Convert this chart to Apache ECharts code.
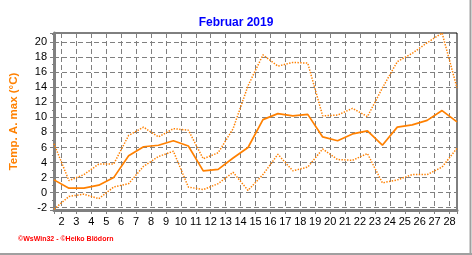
<!DOCTYPE html>
<html><head><meta charset="utf-8">
<script src="https://cdn.jsdelivr.net/npm/echarts@6/dist/echarts.min.js"></script>
<style>html,body{margin:0;padding:0;background:#fff}#c{width:472px;height:255px}</style>
</head><body><div id="c"></div>
<script>
// ---- data (February 2019, daily values) ----
const days = [1,2,3,4,5,6,7,8,9,10,11,12,13,14,15,16,17,18,19,20,21,22,23,24,25,26,27,28];
const tempMaxAvg  = [1.7,0.6,0.6,1.0,2.0,4.9,6.1,6.3,6.9,6.2,2.9,3.1,4.6,6.0,9.7,10.5,10.2,10.4,7.4,6.9,7.8,8.2,6.3,8.7,9.0,9.6,10.9,9.4];
const tempMaxHigh = [6.5,1.6,2.4,3.8,3.8,7.6,8.7,7.4,8.5,8.3,4.5,5.3,8.5,14.2,18.3,16.8,17.3,17.2,10.2,10.3,11.2,10.1,13.9,17.4,18.5,19.9,21.2,13.9];
const tempMaxLow  = [-2.2,-0.5,-0.2,-0.8,0.75,1.2,3.5,4.8,5.5,0.75,0.4,1.2,2.7,0.3,2.4,5.1,2.9,3.4,5.8,4.4,4.3,5.2,1.3,1.7,2.4,2.4,3.4,5.9];
const xTickDays   = [2,3,4,5,6,7,8,9,10,11,12,13,14,15,16,17,18,19,20,21,22,23,24,25,26,27,28];
const yTickValues = [-2,0,2,4,6,8,10,12,14,16,18,20];
const NOON = 0.5; // daily value is plotted at mid-day; grid lines mark day starts

const toPts = vals => days.map((d, i) => [d + NOON, vals[i]]);
const ORANGE = '#FF8000';
const GREY = '#808080';

const chart = echarts.init(document.getElementById('c'), null, {renderer: 'canvas'});
chart.setOption({
  animation: false,
  title: {
    text: 'Februar 2019', left: 'center', top: 12,
    textStyle: {color: '#0000FF', fontSize: 12, fontWeight: 'bold', fontFamily: 'Liberation Sans, Arial, sans-serif'}
  },
  grid: {left: 51, right: 15, top: 33, bottom: 45, show: true, borderColor: '#000', borderWidth: 1, backgroundColor: 'transparent'},
  xAxis: {
    type: 'value', min: 1.5, max: 28.5, minInterval: 1, maxInterval: 1, splitNumber: 27,
    axisLine: {show: true, onZero: false, lineStyle: {color: GREY, width: 3}},
    axisTick: {show: true, length: 4, lineStyle: {color: GREY, width: 1}},
    minorTick: {show: true, splitNumber: 4, length: 2, lineStyle: {color: GREY, width: 1}},
    axisLabel: {color: '#000', fontSize: 11, margin: 6, fontFamily: 'Liberation Sans, Arial, sans-serif',
      showMinLabel: false, showMaxLabel: false,
      formatter: v => xTickDays.indexOf(v) >= 0 ? String(v) : ''},
    splitLine: {show: true, showMinLine: false, showMaxLine: false, lineStyle: {color: GREY, type: [5, 3], width: 1}}
  },
  yAxis: {
    type: 'value', min: -2.3, max: 21.2, minInterval: 2, maxInterval: 2, splitNumber: 12,
    name: 'Temp. A. max (°C)', nameLocation: 'middle', nameGap: 34, nameRotate: 90,
    nameTextStyle: {color: ORANGE, fontWeight: 'bold', fontSize: 11.5, fontFamily: 'Liberation Sans, Arial, sans-serif'},
    axisLine: {show: true, onZero: false, lineStyle: {color: GREY, width: 3}},
    axisTick: {show: true, length: 4, lineStyle: {color: GREY, width: 1}},
    minorTick: {show: true, splitNumber: 2, length: 2, lineStyle: {color: GREY, width: 1}},
    axisLabel: {color: '#000', fontSize: 11, margin: 7, fontFamily: 'Liberation Sans, Arial, sans-serif',
      showMinLabel: false, showMaxLabel: false,
      formatter: v => yTickValues.indexOf(v) >= 0 ? String(v) : ''},
    splitLine: {show: true, showMinLine: false, showMaxLine: false, lineStyle: {color: GREY, type: [5, 3], width: 1}}
  },
  series: [
    {type: 'line', name: 'max', data: toPts(tempMaxHigh), showSymbol: false, symbol: 'none', clip: true,
     lineStyle: {color: ORANGE, width: 1.5, type: [1.4, 1.4]}},
    {type: 'line', name: 'min', data: toPts(tempMaxLow), showSymbol: false, symbol: 'none', clip: true,
     lineStyle: {color: ORANGE, width: 1.5, type: [1.4, 1.4]}},
    {type: 'line', name: 'avg', data: toPts(tempMaxAvg), showSymbol: false, symbol: 'none', clip: true,
     lineStyle: {color: ORANGE, width: 1.7}}
  ],
  graphic: [
    {type: 'text', left: 18, top: 236, style: {text: '©WsWin32 - ©Heiko Blödorn', fill: '#FF0000', font: 'bold 7px "Liberation Sans", Arial, sans-serif'}},
    {type: 'rect', shape: {x: 469.5, y: 0, width: 2, height: 255}, style: {fill: '#A0A0A0'}, silent: true},
    {type: 'rect', shape: {x: 0, y: 253, width: 472, height: 2}, style: {fill: '#A0A0A0'}, silent: true}
  ]
});
</script>
</body></html>
